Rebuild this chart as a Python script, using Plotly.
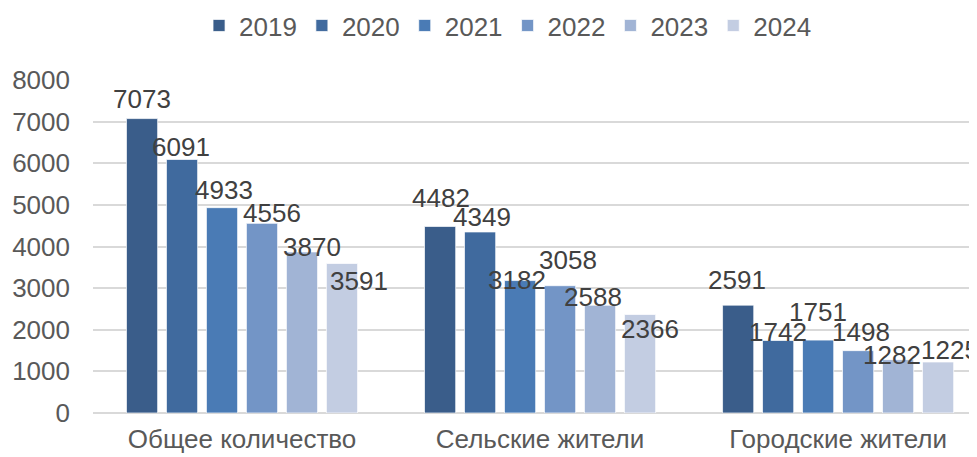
import plotly.graph_objects as go

categories = ["Общее количество", "Сельские жители", "Городские жители"]
years = ["2019", "2020", "2021", "2022", "2023", "2024"]
v2019 = [7073, 4482, 2591]
v2020 = [6091, 4349, 1742]
v2021 = [4933, 3182, 1751]
v2022 = [4556, 3058, 1498]
v2023 = [3870, 2588, 1282]
v2024 = [3591, 2366, 1225]
series = [v2019, v2020, v2021, v2022, v2023, v2024]

colors = ["#3A5D8A", "#406A9E", "#4A7BB5", "#7395C6", "#A1B4D5", "#C3CDE2"]

# label nudges (pixels) per series, per category
label_dx = [[0, 1, -1], [-1, 2, 0], [2, -3, 0], [10, 8, 3], [10, -7, -6], [17, 10, 12]]
label_dy = [[20, 28, 25], [12, 15, 8], [18, 1, 28], [10, 26, 19], [5, 8, 5], [-17, -14, 12]]

FONT = "Liberation Sans, Arial, sans-serif"
FS = 26
bargap = 0.195
n = len(series)

fig = go.Figure()
for i, (yr, vals) in enumerate(zip(years, series)):
    fig.add_trace(go.Bar(
        name=yr, x=categories, y=vals,
        marker=dict(color=colors[i], line=dict(color="rgba(255,255,255,0.7)", width=1)),
    ))

annotations = []
w = (1 - bargap) / n
for i, vals in enumerate(series):
    for j, v in enumerate(vals):
        annotations.append(dict(
            x=j + (i - (n - 1) / 2) * w, y=v, xref="x", yref="y",
            text=str(v), showarrow=False,
            xanchor="center", yanchor="middle",
            xshift=label_dx[i][j], yshift=label_dy[i][j],
            font=dict(family=FONT, size=FS, color="#404040"),
        ))

fig.update_layout(
    width=969, height=449,
    margin=dict(l=85, r=0, t=72, b=44, autoexpand=False),
    paper_bgcolor="white", plot_bgcolor="white",
    barmode="group", bargap=bargap, bargroupgap=0.22,
    font=dict(family=FONT, size=FS, color="#595959"),
    legend=dict(orientation="h", x=0.4695, xanchor="center", y=1.234, yanchor="top",
                yref="paper", font=dict(family=FONT, size=FS, color="#595959"),
                itemclick=False),
    annotations=annotations,
    showlegend=True,
)
fig.update_xaxes(
    type="category", range=[-0.5, 2.466], showgrid=False, automargin=False,
    showline=False, ticks="", ticklabelstandoff=8,
    tickfont=dict(family=FONT, size=FS, color="#595959"),
)
fig.update_yaxes(
    range=[0, 8000], dtick=1000, showgrid=True, gridcolor="#D9D9D9", gridwidth=1.5,
    zeroline=True, zerolinecolor="#D9D9D9", zerolinewidth=1.5, automargin=False,
    ticks="", ticklabelstandoff=22,
    tickfont=dict(family=FONT, size=FS, color="#595959"),
)

fig.write_html("out.html")
